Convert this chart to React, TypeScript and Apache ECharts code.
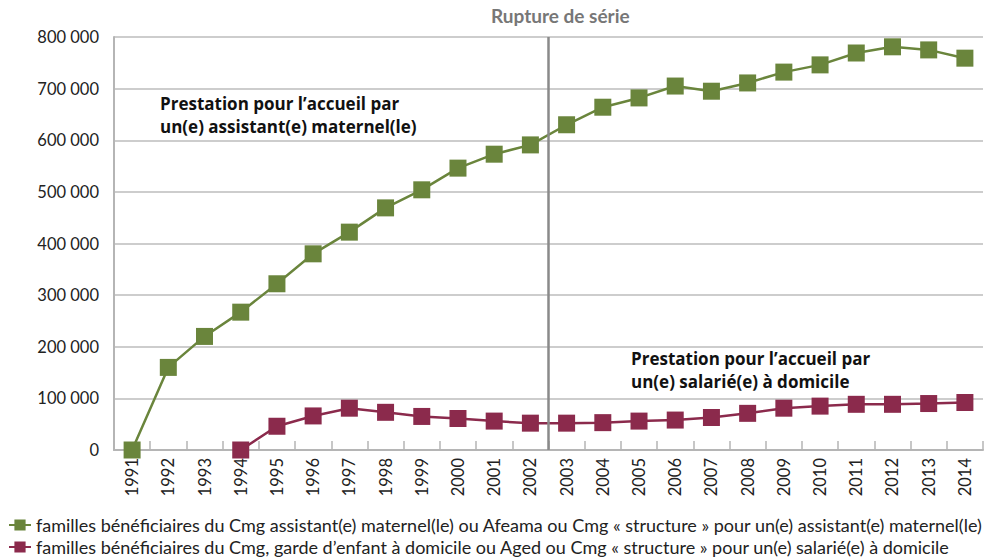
import React, { useEffect, useRef } from "react";
import * as echarts from "echarts";

const years = ["1991","1992","1993","1994","1995","1996","1997","1998","1999","2000","2001","2002","2003","2004","2005","2006","2007","2008","2009","2010","2011","2012","2013","2014"];
const assistantValues = [0,160000,220000,267000,322000,380000,422000,469000,504000,546000,573000,591000,630000,664000,682000,705000,695000,711000,732000,746000,769000,781000,775000,759000];
const salarieValues = [null,null,null,0,46000,66000,81000,73000,65000,61000,56000,52000,52000,53000,56000,58000,63000,71000,81000,85000,88500,88500,90000,92000];
const seriesNames = [
  "familles bénéficiaires du Cmg assistant(e) maternel(le) ou Afeama ou Cmg « structure » pour un(e) assistant(e) maternel(le)",
  "familles bénéficiaires du Cmg, garde d’enfant à domicile ou Aged ou Cmg « structure » pour un(e) salarié(e) à domicile",
];
const ruptureIndex = 12;
const yTicks = { min: 0, max: 800000, interval: 100000 };

const GREEN = "#6a853c";
const MAROON = "#8b2a4c";
const FONT = "Lato, 'Open Sans', sans-serif";
const BOLD_FONT = "'Open Sans', Lato, sans-serif";

export default function App() {
  const ref = useRef<HTMLDivElement>(null);
  useEffect(() => {
    if (!ref.current) return;
    const chart = echarts.init(ref.current, null, { renderer: "svg" });
    const fmt = (v: number) => (v === 0 ? "0" : String(v).replace(/\B(?=(\d{3})+(?!\d))/g, " "));
    const legendCommon = {
      orient: "horizontal",
      left: 8,
      padding: 0,
      itemGap: 4,
      itemWidth: 22,
      itemHeight: 14,
      textStyle: { fontFamily: FONT, fontSize: 18, color: "#222" },
    };
    chart.setOption({
      animation: false,
      textStyle: { fontFamily: FONT },
      grid: { left: 114, right: 10, top: 37, bottom: 109, containLabel: false },
      xAxis: [
        {
          type: "category",
          data: years,
          boundaryGap: true,
          axisLine: { show: true, lineStyle: { color: "#b5b5b5", width: 2 } },
          axisTick: { show: true, inside: true, length: 9, lineStyle: { color: "#b5b5b5", width: 1.5 } },
          axisLabel: { rotate: 90, color: "#222", fontSize: 16.5, fontFamily: FONT, margin: 8 },
          splitLine: { show: false },
        },
        { type: "value", min: 0, max: years.length, show: false },
      ],
      yAxis: {
        type: "value",
        min: yTicks.min,
        max: yTicks.max,
        interval: yTicks.interval,
        axisLine: { show: true, lineStyle: { color: "#b5b5b5", width: 2 } },
        axisTick: { show: false },
        axisLabel: { color: "#222", fontSize: 16.5, fontFamily: FONT, margin: 15, formatter: fmt },
        splitLine: { show: true, lineStyle: { color: "#bdbdbd", width: 1.5 } },
      },
      legend: [
        { ...legendCommon, top: 516, data: [seriesNames[0]] },
        { ...legendCommon, top: 538, data: [seriesNames[1]] },
      ],
      series: [
        {
          name: seriesNames[0],
          type: "line",
          data: assistantValues,
          symbol: "rect",
          symbolSize: 17,
          itemStyle: { color: GREEN },
          lineStyle: { color: GREEN, width: 2.5 },
        },
        {
          name: seriesNames[1],
          type: "line",
          data: salarieValues,
          symbol: "rect",
          symbolSize: 17,
          connectNulls: false,
          itemStyle: { color: MAROON },
          lineStyle: { color: MAROON, width: 2.5 },
        },
        {
          name: "rupture",
          type: "line",
          xAxisIndex: 1,
          data: [],
          silent: true,
          markLine: {
            silent: true,
            symbol: "none",
            label: { show: false },
            lineStyle: { color: "#8a8a8a", width: 2.5, type: "solid" },
            data: [{ xAxis: ruptureIndex }],
          },
        },
      ],
      graphic: [
        { type: "text", left: 491, top: 6, style: { text: "Rupture de série", font: `bold 19px ${FONT}`, fill: "#777" } },
        { type: "text", left: 160, top: 92, style: { text: "Prestation pour l’accueil par\nun(e) assistant(e) maternel(le)", font: `bold 17px ${BOLD_FONT}`, fill: "#111", lineHeight: 23 } },
        { type: "text", left: 631, top: 347, style: { text: "Prestation pour l’accueil par\nun(e) salarié(e) à domicile", font: `bold 17px ${BOLD_FONT}`, fill: "#111", lineHeight: 23 } },
      ],
    });
    return () => chart.dispose();
  }, []);
  return <div ref={ref} style={{ width: 993, height: 559, position: "absolute", left: 0, top: 0 }} />;
}
